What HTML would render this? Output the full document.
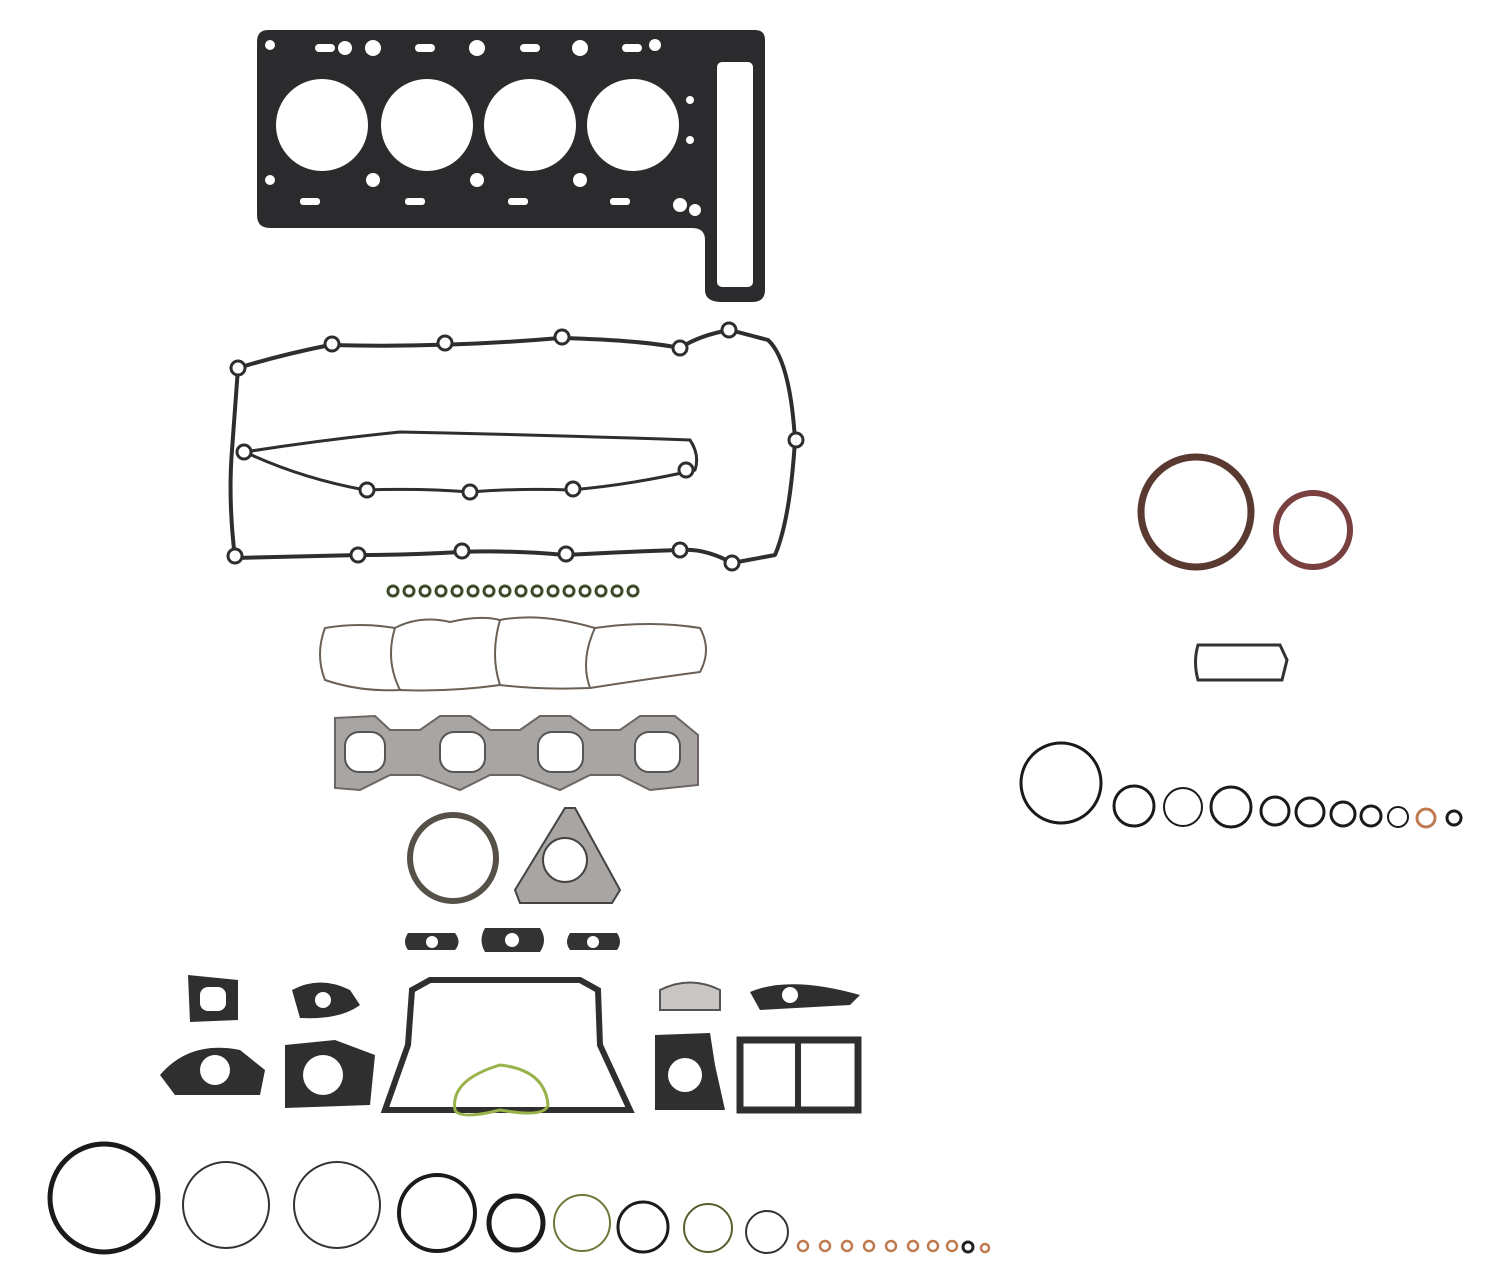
<!DOCTYPE html>
<html><head><meta charset="utf-8"><style>html,body{margin:0;padding:0;background:#fff}svg{display:block}</style></head>
<body>
<svg width="1500" height="1286" viewBox="0 0 1500 1286" xmlns="http://www.w3.org/2000/svg">
<!-- Head gasket -->
<path d="M268,30 L755,30 Q765,30 765,40 L765,290 Q765,302 752,302 L722,302 Q705,302 705,290 L705,240 Q705,228 692,228 L270,228 Q257,228 257,215 L257,42 Q257,30 268,30 Z" fill="#2b2b2d"/>
<rect x="717" y="62" width="36" height="225" rx="5" fill="#fff"/>
<g fill="#fff">
<circle cx="322" cy="125" r="46"/><circle cx="427" cy="125" r="46"/><circle cx="530" cy="125" r="46"/><circle cx="633" cy="125" r="46"/>
<circle cx="270" cy="45" r="5"/><circle cx="345" cy="48" r="7"/><circle cx="373" cy="48" r="8"/><circle cx="477" cy="48" r="8"/><circle cx="580" cy="48" r="8"/><circle cx="655" cy="45" r="6"/>
<rect x="315" y="44" width="20" height="8" rx="4"/><rect x="415" y="44" width="20" height="8" rx="4"/><rect x="520" y="44" width="20" height="8" rx="4"/><rect x="622" y="44" width="20" height="8" rx="4"/>
<circle cx="373" cy="180" r="7"/><circle cx="477" cy="180" r="7"/><circle cx="580" cy="180" r="7"/><circle cx="270" cy="180" r="5"/>
<circle cx="680" cy="205" r="7"/><circle cx="695" cy="210" r="6"/><circle cx="690" cy="100" r="4"/><circle cx="690" cy="140" r="4"/>
<rect x="300" y="198" width="20" height="7" rx="3"/><rect x="405" y="198" width="20" height="7" rx="3"/><rect x="508" y="198" width="20" height="7" rx="3"/><rect x="610" y="198" width="20" height="7" rx="3"/>
</g>
<!-- Valve cover gasket -->
<g fill="none" stroke="#2e2e30" stroke-width="4" stroke-linejoin="round">
<path d="M238,368 Q280,355 330,345 Q445,348 560,338 Q640,340 680,348 Q700,335 730,330 L768,340 Q790,360 795,440 Q790,520 775,555 L732,563 Q705,548 680,550 Q620,552 565,555 Q510,550 460,552 Q410,555 360,555 L235,558 Q228,500 232,450 Q235,410 238,368 Z"/>
<path d="M245,452 Q320,440 400,432 Q550,435 690,440 Q700,455 695,470 Q630,485 570,490 Q520,488 470,492 Q420,488 365,490 Q300,478 245,452 Z" stroke-width="3"/>
</g>
<g fill="#fff" stroke="#2e2e30" stroke-width="3">
<circle cx="238" cy="368" r="7"/><circle cx="332" cy="344" r="7"/><circle cx="445" cy="343" r="7"/><circle cx="562" cy="337" r="7"/><circle cx="680" cy="348" r="7"/><circle cx="729" cy="330" r="7"/><circle cx="796" cy="440" r="7"/><circle cx="244" cy="452" r="7"/><circle cx="686" cy="470" r="7"/><circle cx="367" cy="490" r="7"/><circle cx="470" cy="492" r="7"/><circle cx="573" cy="489" r="7"/><circle cx="235" cy="556" r="7"/><circle cx="358" cy="555" r="7"/><circle cx="462" cy="551" r="7"/><circle cx="566" cy="554" r="7"/><circle cx="680" cy="550" r="7"/><circle cx="732" cy="563" r="7"/>
</g>
<!-- small rings row -->
<g fill="none" stroke="#3c4a2a" stroke-width="3">
<circle cx="393" cy="591" r="5"/><circle cx="409" cy="591" r="5"/><circle cx="425" cy="591" r="5"/><circle cx="441" cy="591" r="5"/><circle cx="457" cy="591" r="5"/><circle cx="473" cy="591" r="5"/><circle cx="489" cy="591" r="5"/><circle cx="505" cy="591" r="5"/><circle cx="521" cy="591" r="5"/><circle cx="537" cy="591" r="5"/><circle cx="553" cy="591" r="5"/><circle cx="569" cy="591" r="5"/><circle cx="585" cy="591" r="5"/><circle cx="601" cy="591" r="5"/><circle cx="617" cy="591" r="5"/><circle cx="633" cy="591" r="5"/>
</g>
<!-- intake gasket -->
<g fill="none" stroke="#6a6055" stroke-width="2">
<path d="M325,628 Q360,622 395,628 Q420,615 450,622 Q480,615 500,620 Q540,612 595,628 Q650,620 700,628 Q712,650 700,672 Q640,680 590,688 Q540,690 500,685 Q450,692 400,690 Q360,692 325,680 Q315,655 325,628 Z"/>
<path d="M395,628 Q385,660 400,690 M500,620 Q490,655 500,685 M595,628 Q580,660 590,688"/>
</g>
<!-- exhaust gasket -->
<path d="M335,718 L375,716 L390,730 L420,730 L440,716 L470,716 L490,730 L520,730 L540,716 L570,716 L590,730 L620,730 L640,716 L675,716 L698,735 L698,785 L650,790 L620,775 L590,775 L560,790 L520,775 L490,775 L460,790 L420,775 L390,775 L360,790 L335,788 Z" fill="#a9a5a2" stroke="#6b6663" stroke-width="2"/>
<g fill="#fff" stroke="#555" stroke-width="2">
<rect x="345" y="732" width="40" height="40" rx="14"/><rect x="440" y="732" width="45" height="40" rx="14"/><rect x="538" y="732" width="45" height="40" rx="14"/><rect x="635" y="732" width="45" height="40" rx="14"/>
</g>
<!-- seal + triangle -->
<circle cx="453" cy="858" r="43" fill="none" stroke="#555048" stroke-width="6"/>
<path d="M565,808 L575,808 L620,890 L612,903 L520,903 L515,890 Z" fill="#a8a5a3" stroke="#444" stroke-width="2"/>
<circle cx="565" cy="860" r="22" fill="#fff" stroke="#444" stroke-width="2"/>
<!-- three small gaskets -->
<g fill="#333">
<path d="M408,933 L455,933 Q462,942 455,950 L408,950 Q402,942 408,933 Z"/>
<path d="M485,928 L540,928 Q548,940 540,952 L485,952 Q478,940 485,928 Z"/>
<path d="M570,933 L617,933 Q623,942 617,950 L570,950 Q564,942 570,933 Z"/>
</g>
<g fill="#fff"><circle cx="432" cy="942" r="6"/><circle cx="512" cy="940" r="7"/><circle cx="593" cy="942" r="6"/></g>
<!-- row of gaskets -->
<g fill="#2f2f2f">
<path d="M188,975 L238,980 L238,1020 L190,1022 Z"/>
<path d="M292,990 Q320,975 350,990 L360,1005 Q340,1020 300,1018 Z"/>
<path d="M160,1075 Q190,1040 240,1050 L265,1070 L260,1095 L175,1095 Z"/>
<path d="M285,1045 L335,1040 L375,1055 L370,1105 L285,1108 Z"/>
<path d="M655,1035 L710,1033 L715,1065 L725,1110 L655,1110 Z"/>
<path d="M750,992 Q790,975 860,995 L850,1005 L760,1010 Z"/>
</g>
<g fill="#fff"><rect x="200" y="987" width="26" height="24" rx="8"/><circle cx="323" cy="1000" r="8"/><circle cx="215" cy="1070" r="15"/><circle cx="323" cy="1075" r="20"/><circle cx="685" cy="1075" r="17"/><circle cx="790" cy="995" r="8"/></g>
<path d="M660,990 Q690,975 720,990 L720,1010 L660,1010 Z" fill="#c9c6c4" stroke="#555" stroke-width="2"/>
<path d="M412,990 L430,980 L580,980 L598,990 L600,1045 L630,1110 L385,1110 L408,1045 Z" fill="none" stroke="#2f2f2f" stroke-width="6"/>
<path d="M455,1110 Q450,1080 500,1065 Q545,1070 548,1105 Q545,1118 500,1110 Q460,1120 455,1110 Z" fill="none" stroke="#9ab24a" stroke-width="3"/>
<rect x="740" y="1040" width="118" height="70" fill="none" stroke="#2f2f2f" stroke-width="7"/>
<line x1="798" y1="1040" x2="798" y2="1110" stroke="#2f2f2f" stroke-width="6"/>
<!-- bottom rings -->
<g fill="none">
<circle cx="104" cy="1198" r="54" stroke="#1a1a1a" stroke-width="5"/>
<circle cx="226" cy="1205" r="43" stroke="#333" stroke-width="2"/>
<circle cx="337" cy="1205" r="43" stroke="#333" stroke-width="2"/>
<circle cx="437" cy="1213" r="38" stroke="#1a1a1a" stroke-width="4"/>
<circle cx="516" cy="1223" r="27" stroke="#1a1a1a" stroke-width="5"/>
<circle cx="582" cy="1223" r="28" stroke="#6a7a3a" stroke-width="2"/>
<circle cx="643" cy="1227" r="25" stroke="#1a1a1a" stroke-width="3"/>
<circle cx="708" cy="1228" r="24" stroke="#556030" stroke-width="2"/>
<circle cx="767" cy="1232" r="21" stroke="#333" stroke-width="2"/>
<g stroke="#c07a50" stroke-width="2.5"><circle cx="803" cy="1246" r="5"/><circle cx="825" cy="1246" r="5"/><circle cx="847" cy="1246" r="5"/><circle cx="869" cy="1246" r="5"/><circle cx="891" cy="1246" r="5"/><circle cx="913" cy="1246" r="5"/><circle cx="933" cy="1246" r="5"/><circle cx="952" cy="1246" r="5"/><circle cx="985" cy="1248" r="4"/></g>
<circle cx="968" cy="1247" r="5" stroke="#222" stroke-width="3"/>
</g>
<!-- right side -->
<circle cx="1196" cy="512" r="55" fill="none" stroke="#5a3a30" stroke-width="7"/>
<circle cx="1313" cy="530" r="37" fill="none" stroke="#7a4040" stroke-width="6"/>
<path d="M1198,645 L1280,645 L1287,660 L1282,680 L1198,680 Q1193,662 1198,645 Z" fill="none" stroke="#333" stroke-width="3"/>
<g fill="none" stroke="#1a1a1a">
<circle cx="1061" cy="783" r="40" stroke-width="3"/>
<circle cx="1134" cy="806" r="20" stroke-width="3"/>
<circle cx="1183" cy="807" r="19" stroke-width="2"/>
<circle cx="1231" cy="807" r="20" stroke-width="3"/>
<circle cx="1275" cy="811" r="14" stroke-width="3"/>
<circle cx="1310" cy="812" r="14" stroke-width="3"/>
<circle cx="1343" cy="814" r="12" stroke-width="3"/>
<circle cx="1371" cy="816" r="10" stroke-width="3"/>
<circle cx="1398" cy="817" r="10" stroke-width="2"/>
<circle cx="1426" cy="818" r="9" stroke="#c07a50" stroke-width="3"/>
<circle cx="1454" cy="818" r="7" stroke-width="3"/>
</g>
</svg>
</body></html>
